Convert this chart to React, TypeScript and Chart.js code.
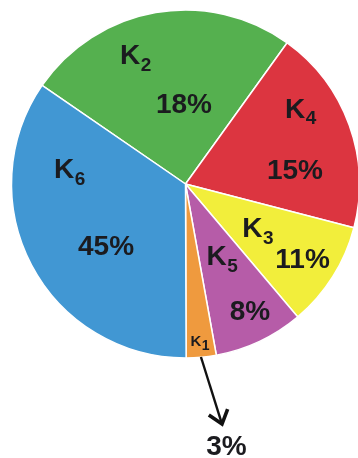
import React, { useEffect, useRef } from "react";
import { Chart, registerables } from "chart.js";

Chart.register(...registerables);

// ---- data (clockwise from the K6/K2 boundary) ----
const categories = ["K2", "K4", "K3", "K5", "K1", "K6"];
const subscripts = ["2", "4", "3", "5", "1", "6"];
const sliceSizes = [25.35, 19.12, 9.78, 8.33, 2.78, 34.64];
const percentLabels = ["18%", "15%", "11%", "8%", "3%", "45%"];

// ---- styles ----
const colors = ["#55b04f", "#dc3540", "#f2ee3b", "#b65ca8", "#ef9a3e", "#4197d3"];
const TEXT = "#1b1b1f";
const FONT = "'Liberation Sans', Arial, Helvetica, sans-serif";
// polar placements (degrees clockwise from top, radius px) for name and percent
const namePos = [
  [336.9, 141.4], [55.1, 133.6], [122.7, 79.6], [156.4, 77.5], [176.2, 156.9], [277.5, 122.5],
];
const pctPos = [
  [358.9, 81], [82.2, 110.5], [122.1, 138.2], [152.8, 141.1], [171.05, 263.7], [232.5, 100.2],
];
const nameSize = [28, 28, 28, 28, 15, 28];
const subSize = [19, 19, 19, 19, 14, 19];

const labelPlugin = {
  id: "sliceLabels",
  afterDatasetsDraw(chart: any) {
    const ctx = chart.ctx as CanvasRenderingContext2D;
    const arc = chart.getDatasetMeta(0).data[0];
    const cx = arc.x;
    const cy = arc.y;
    const pt = (deg: number, r: number) => {
      const a = (deg * Math.PI) / 180;
      return [cx + r * Math.sin(a), cy - r * Math.cos(a)];
    };
    ctx.save();
    ctx.fillStyle = TEXT;
    categories.forEach((_, i) => {
      const [nx, ny] = pt(namePos[i][0], namePos[i][1]);
      const s = nameSize[i];
      ctx.font = `bold ${s}px ${FONT}`;
      ctx.textAlign = "center";
      ctx.textBaseline = "alphabetic";
      const cap = s * 0.72;
      const base = ny + cap / 2;
      ctx.fillText("K", nx, base);
      const kw = ctx.measureText("K").width;
      ctx.font = `bold ${subSize[i]}px ${FONT}`;
      ctx.textAlign = "left";
      ctx.fillText(subscripts[i], nx + kw / 2 + 0.5, base + (i === 4 ? 4 : 6.5));
      const [px, py] = pt(pctPos[i][0], pctPos[i][1]);
      ctx.font = `bold 28px ${FONT}`;
      ctx.textAlign = "center";
      ctx.fillText(percentLabels[i], px, py + (28 * 0.72) / 2);
    });
    // arrow from K1 slice to its percent label
    const [sx, sy] = pt(174.9, 173.7);
    const [ex, ey] = pt(171.35, 242.8);
    ctx.strokeStyle = "#111";
    ctx.lineWidth = 2.4;
    ctx.beginPath();
    ctx.moveTo(sx, sy);
    ctx.lineTo(ex, ey);
    ctx.stroke();
    const ang = Math.atan2(ey - sy, ex - sx);
    const wing = 16;
    const spread = (38 * Math.PI) / 180;
    ctx.lineWidth = 3.6;
    ctx.lineJoin = "miter";
    ctx.beginPath();
    ctx.moveTo(ex - wing * Math.cos(ang - spread), ey - wing * Math.sin(ang - spread));
    ctx.lineTo(ex, ey);
    ctx.lineTo(ex - wing * Math.cos(ang + spread), ey - wing * Math.sin(ang + spread));
    ctx.stroke();
    ctx.restore();
  },
};

export default function App() {
  const ref = useRef<HTMLCanvasElement | null>(null);
  useEffect(() => {
    if (!ref.current) return;
    const chart = new Chart(ref.current, {
      type: "pie",
      data: {
        labels: categories,
        datasets: [
          {
            data: sliceSizes,
            backgroundColor: colors,
            borderColor: "#ffffff",
            borderWidth: 1.5,
          },
        ],
      },
      options: {
        responsive: false,
        animation: false,
        events: [],
        rotation: -55.5,
        radius: 174,
        layout: { padding: { left: 0, top: 0, right: 9, bottom: 90 } },
        plugins: {
          legend: { display: false },
          tooltip: { enabled: false },
        },
      },
      plugins: [labelPlugin],
    } as any);
    return () => chart.destroy();
  }, []);
  return (
    <div
      style={{
        position: "absolute",
        left: 0,
        top: 0,
        width: 358,
        height: 458,
        overflow: "hidden",
        background: "#ffffff",
      }}
    >
      <canvas ref={ref} width={380} height={458} style={{ display: "block" }} />
    </div>
  );
}
